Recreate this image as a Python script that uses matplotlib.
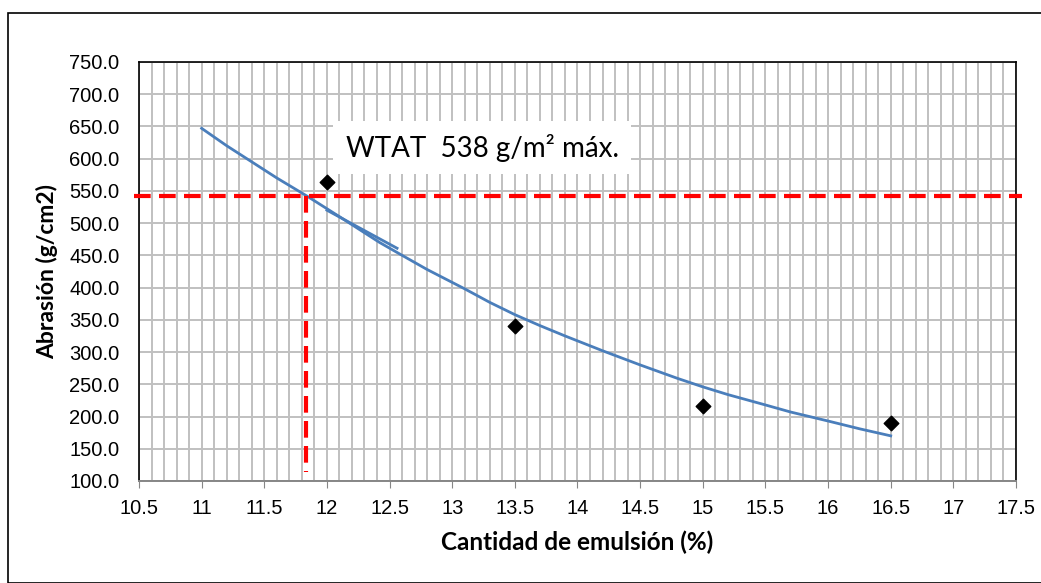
import matplotlib
matplotlib.use("Agg")
import matplotlib.pyplot as plt
from matplotlib.patches import Rectangle

# measured points (emulsion %, abrasion)
emulsion = [12, 13.5, 15, 16.5]
abrasion = [563, 340, 217, 190]

# trendline
trend_x = [11.0, 11.2, 11.4, 11.6, 11.84, 12.1, 12.42, 12.6, 12.8, 13.1, 13.3, 13.5, 13.7, 13.9,
           14.2, 14.5, 14.8, 15.0, 15.2, 15.48, 15.7, 16.0, 16.25, 16.5]
trend_y = [647, 620, 595, 570, 542, 510, 470, 450, 428, 398, 377, 358, 341, 325,
           302, 280, 259, 246, 234, 219, 207, 193, 181, 170]

# short stray segment next to the trendline
seg_x = [12.0, 12.56]
seg_y = [520, 461]

# limit lines
limit_y = 542
limit_x = 11.83
limit_bottom = 114

xticks = [10.5, 11, 11.5, 12, 12.5, 13, 13.5, 14, 14.5, 15, 15.5, 16, 16.5, 17, 17.5]
xlabels = ["10.5", "11", "11.5", "12", "12.5", "13", "13.5", "14", "14.5", "15", "15.5", "16", "16.5", "17", "17.5"]
yticks = list(range(100, 751, 50))

fig = plt.figure(figsize=(10.41, 5.83), dpi=100)
ax = fig.add_axes([0.1335, 0.175, 0.8425, 0.7188])

# chart frame
fig.patches.append(Rectangle((8 / 1041, 0.0), 1.2, 1 - 12.5 / 583, transform=fig.transFigure,
                             fill=False, edgecolor="black", linewidth=1.2))

ax.set_xlim(10.5, 17.5)
ax.set_ylim(100, 750)
ax.set_xticks(xticks)
ax.set_xticklabels(xlabels)
ax.set_yticks(yticks)
ax.set_yticklabels(["%.1f" % v for v in yticks])
ax.set_xticks([10.5 + 0.1 * i for i in range(71)], minor=True)

ax.grid(True, which="both", axis="x", color="#c0c0c0", linewidth=1.4)
ax.grid(True, which="major", axis="y", color="#c0c0c0", linewidth=1.4)
ax.set_axisbelow(True)
ax.tick_params(axis="x", which="minor", length=0)
ax.tick_params(axis="x", which="major", length=5, color="#868686", direction="out", pad=8)
ax.tick_params(axis="y", length=0, pad=14)
for lab in ax.get_xticklabels() + ax.get_yticklabels():
    lab.set_fontfamily("Liberation Sans")
    lab.set_fontsize(14.5)

for s in ["left", "top", "right"]:
    ax.spines[s].set_color("black")
    ax.spines[s].set_linewidth(1.2)
ax.spines["bottom"].set_color("#868686")
ax.spines["bottom"].set_linewidth(1.4)

ax.plot(trend_x, trend_y, color="#4a7ebb", linewidth=2, zorder=3)
ax.plot(seg_x, seg_y, color="#4a7ebb", linewidth=2, zorder=3)
ax.scatter(emulsion, abrasion, marker="D", s=55, color="black", zorder=5)

ax.axhline(limit_y, xmin=-0.006, xmax=1.007, color="red", linestyle=(0, (4, 2)),
           linewidth=3, zorder=4, clip_on=False)
ax.plot([limit_x, limit_x], [limit_y, limit_bottom], color="red", linestyle=(0, (4, 2)),
        linewidth=3, zorder=4)

ax.text(13.24, 617, "WTAT  538 g/m² máx.", fontsize=20, fontfamily="Lato",
        ha="center", va="center", zorder=6,
        bbox=dict(boxstyle="square,pad=0.45", facecolor="white", edgecolor="none"))

ax.set_xlabel("Cantidad de emulsión (%)", fontsize=17.5, fontweight="bold", fontfamily="Lato", labelpad=9)
ax.set_ylabel("Abrasión (g/cm2)", fontsize=16.5, fontweight="bold", fontfamily="Lato", labelpad=8)

fig.savefig("out.png", dpi=100)
